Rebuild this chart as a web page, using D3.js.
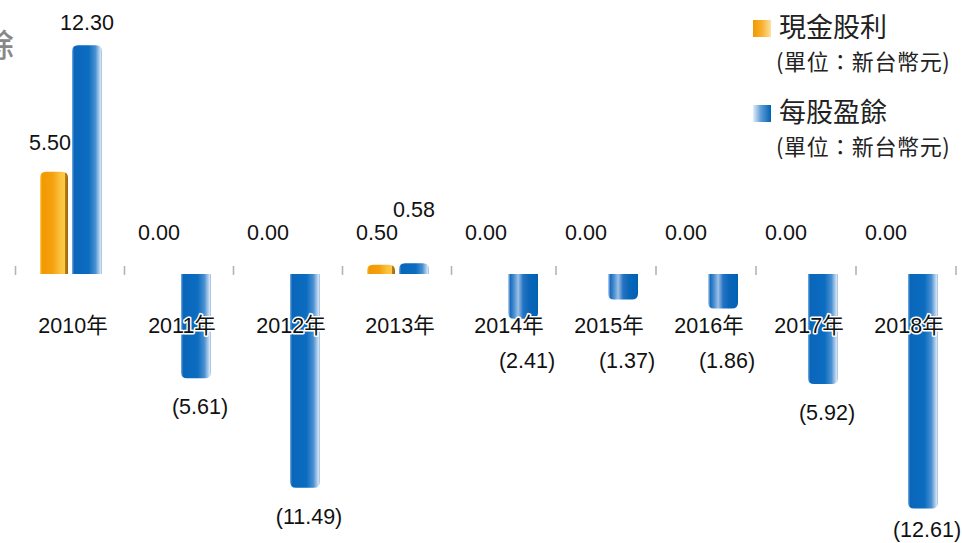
<!DOCTYPE html>
<html><head><meta charset="utf-8">
<script src="https://cdn.jsdelivr.net/npm/d3@7"></script>
<style>
html,body{margin:0;padding:0;background:#fff;}
svg{display:block;}
</style></head>
<body>
<svg id="chart" width="962" height="543"></svg>
<script>
// ---- data ----
const years = ["2010年","2011年","2012年","2013年","2014年","2015年","2016年","2017年","2018年"];
const cashDividend = [5.50, 0.00, 0.00, 0.50, 0.00, 0.00, 0.00, 0.00, 0.00];
const eps = [12.30, -5.61, -11.49, 0.58, -2.41, -1.37, -1.86, -5.92, -12.61];
const seriesNames = ["現金股利", "每股盈餘"];
const unitText = "(單位：新台幣元)";

// ---- layout ----
const W = 962, H = 543;
const svg = d3.select("#chart");
const numFont = "'Liberation Sans', Arial, 'Noto Sans CJK TC', sans-serif";
const cjkFont = "'Noto Sans CJK TC', 'Noto Sans CJK SC', sans-serif";

// category index -> group centre (spacing narrows slightly to the right, as in the reference)
const x = d3.scaleLinear().domain([0, 4, 8]).range([70, 506, 906]);
const y = d3.scaleLinear().domain([-13, 13]).range([274 + 13 * 18.6, 274 - 13 * 18.6]);
const y0 = y(0);
const cashW = 28, epsW = 30, gap = 4;

const defs = svg.append("defs");
function grad(id, stops) {
  const g = defs.append("linearGradient").attr("id", id)
    .attr("x1", "0%").attr("x2", "100%").attr("y1", "0%").attr("y2", "0%");
  stops.forEach(([o, c]) => g.append("stop").attr("offset", o).attr("stop-color", c));
}
grad("gOrange", [[0, "#fcd777"], [0.07, "#f39800"], [0.45, "#f4a110"], [0.72, "#fbc23c"], [0.88, "#fbc94c"], [0.91, "#b97c12"], [1, "#9c6608"]]);
grad("gBlueR", [[0, "#7fb0e0"], [0.07, "#0a66bb"], [0.55, "#0b6cc0"], [0.78, "#4a90d0"], [0.9, "#a9c9ea"], [0.96, "#d4e5f6"], [1, "#8fb5dd"]]);
grad("gBlueL", [[0, "#c3daf2"], [0.08, "#1a6cbf"], [0.2, "#4a8ed1"], [0.34, "#9cc0e6"], [0.5, "#2574c3"], [0.7, "#0b66b8"], [1, "#0062b3"]]);
grad("gLegO", [[0, "#f39800"], [0.5, "#f7b230"], [1, "#fde0a0"]]);
grad("gLegB", [[0, "#e4eef9"], [0.45, "#5d9ad6"], [1, "#0062b3"]]);

function barPath(x0, w, ya, yb, r) {
  const p = d3.path();
  const h = Math.abs(yb - ya);
  r = Math.min(r, h, w / 2);
  if (yb < ya) { // positive: round top
    p.moveTo(x0, ya); p.lineTo(x0, yb + r);
    p.quadraticCurveTo(x0, yb, x0 + r, yb);
    p.lineTo(x0 + w - r, yb);
    p.quadraticCurveTo(x0 + w, yb, x0 + w, yb + r);
    p.lineTo(x0 + w, ya); p.closePath();
  } else { // negative: round bottom
    p.moveTo(x0, ya); p.lineTo(x0, yb - r);
    p.quadraticCurveTo(x0, yb, x0 + r, yb);
    p.lineTo(x0 + w - r, yb);
    p.quadraticCurveTo(x0 + w, yb, x0 + w, yb - r);
    p.lineTo(x0 + w, ya); p.closePath();
  }
  return p.toString();
}

// y-axis title, cut by the left edge
svg.append("text").attr("x", 14).attr("y", 57).attr("text-anchor", "end")
  .attr("font-family", cjkFont).attr("font-size", 32).attr("font-weight", 500)
  .attr("fill", "#888").text(seriesNames[1]);

// category tick marks
svg.append("g").selectAll("line").data(d3.range(years.length + 1)).join("line")
  .attr("x1", i => x(i - 0.5)).attr("x2", i => x(i - 0.5))
  .attr("y1", 266).attr("y2", 275)
  .attr("stroke", "#b4b4b4").attr("stroke-width", 1.6);

const idx = d3.range(years.length);

// cash dividend bars
svg.append("g").selectAll("path").data(idx.filter(i => cashDividend[i] !== 0)).join("path")
  .attr("d", i => barPath(x(i) - gap / 2 - cashW, cashW, y0, y(cashDividend[i]), 6))
  .attr("fill", "url(#gOrange)");

// EPS bars
svg.append("g").selectAll("path").data(idx).join("path")
  .attr("d", i => barPath(x(i) + gap / 2, epsW, y0, y(eps[i]), 6))
  .attr("fill", i => (eps[i] < 0 && eps[i] > -3) ? "url(#gBlueL)" : "url(#gBlueR)");

// year labels (with white halo where they cross bars)
svg.append("g").selectAll("text").data(idx).join("text")
  .attr("x", i => x(i) + 3).attr("y", 333).attr("text-anchor", "middle")
  .attr("font-family", numFont).attr("font-size", 21.5).attr("fill", "#111")
  .attr("stroke", "#fff").attr("stroke-width", 3).attr("paint-order", "stroke")
  .attr("stroke-linejoin", "round")
  .text(i => years[i]);

const f2 = d3.format(".2f");
const fmt = v => v < 0 ? "(" + f2(-v) + ")" : f2(v);

// cash labels
svg.append("g").selectAll("text").data(idx).join("text")
  .attr("x", i => x(i) - gap / 2 - cashW / 2 - 4)
  .attr("y", i => Math.min(y(cashDividend[i]), y0 - 12) - 22)
  .attr("text-anchor", "middle").attr("font-family", numFont).attr("font-size", 21.5).attr("fill", "#111")
  .text(i => fmt(cashDividend[i]));

// EPS labels
svg.append("g").selectAll("text").data(idx).join("text")
  .attr("x", i => x(i) + gap / 2 + epsW / 2 + (eps[i] < 0 ? 4 : 0))
  .attr("y", i => eps[i] >= 0 ? Math.min(y(eps[i]) - 15, y0 - 57) : Math.min(Math.max(y(eps[i]) + 36, 368), 537))
  .attr("text-anchor", "middle").attr("font-family", numFont).attr("font-size", 21.5).attr("fill", "#111")
  .text(i => fmt(eps[i]));

// legend
const legend = svg.append("g");
const legItems = [{name: seriesNames[0], fill: "url(#gLegO)", y: 20}, {name: seriesNames[1], fill: "url(#gLegB)", y: 105}];
legItems.forEach(d => {
  legend.append("rect").attr("x", 753).attr("y", d.y).attr("width", 18).attr("height", 17).attr("fill", d.fill);
  legend.append("text").attr("x", 779).attr("y", d.y + 17).attr("font-family", cjkFont)
    .attr("font-size", 27).attr("fill", "#222").text(d.name);
  legend.append("text").attr("x", 776).attr("y", d.y + 50).attr("font-family", cjkFont)
    .attr("font-size", 22).attr("letter-spacing", 0.6).attr("fill", "#222").text(unitText);
});
</script>
</body></html>
